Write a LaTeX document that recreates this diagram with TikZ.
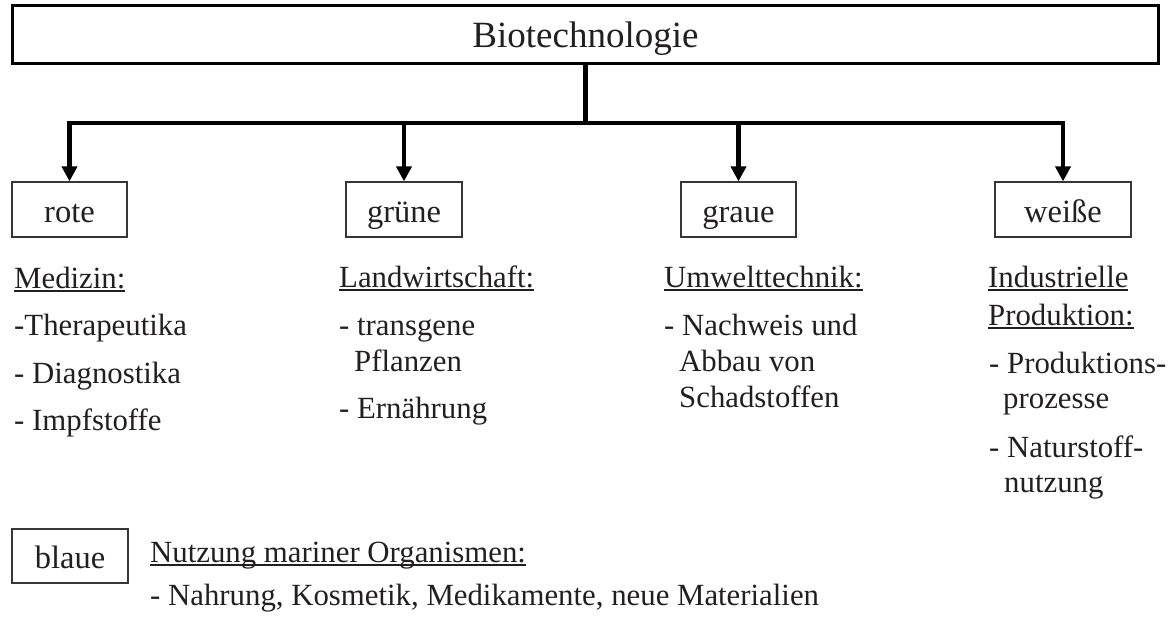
\documentclass[tikz,border=0pt]{standalone}
\usepackage{fontspec}
\setmainfont{Liberation Serif}
\usetikzlibrary{arrows.meta}
\definecolor{ink}{HTML}{231F20}
% underline drawn at a fixed depth below the baseline
\newcommand\ulx[1]{\setbox0=\hbox{#1}\rlap{\rule[-4pt]{\wd0}{1.8pt}}\box0}
\newcommand\bodyfont{\fontsize{30.8}{35.5}\selectfont}
\newcommand\labelfont{\fontsize{32.5}{36}\selectfont}
\newcommand\titlefont{\fontsize{37}{40}\selectfont}

\begin{document}
\begin{tikzpicture}[x=1pt,y=-1pt,
  heavy/.style={line width=4.5pt, draw=black},
  arr/.style={heavy, -{Triangle[length=15pt,width=15pt]}},
  catbox/.style={draw=ink!90, line width=1.2pt, minimum height=55pt, inner sep=0pt,
                 text height=30pt, text depth=5pt, font=\labelfont, text=ink},
  txt/.style={anchor=base west, inner sep=0pt, font=\bodyfont, text=ink}]
\useasboundingbox (0,0) rectangle (1169,616);

% top box
\node[draw=black, line width=3pt, minimum width=1146pt, minimum height=58pt, inner sep=0pt,
      text height=30pt, text depth=5pt, font=\titlefont, text=ink]
      (title) at (585.5,34.5) {Biotechnologie};

% category boxes
\node[catbox, minimum width=115pt] (rote)   at (69.5,209.5)  {rote};
\node[catbox, minimum width=116pt] (grune)  at (404,209.5)   {grüne};
\node[catbox, minimum width=115pt] (graue)  at (738.5,209.5) {graue};
\node[catbox, minimum width=136pt] (weisse) at (1063,209.5)  {weiße};
\node[catbox, minimum width=116pt, minimum height=54pt] (blaue) at (70,556) {blaue};

% connectors
\coordinate (hub) at (585.5,123);
\draw[heavy] (title.south) -- (hub);
\draw[arr] (hub) -| (rote.north);
\draw[arr] (hub) -| (weisse.north);
\draw[arr] (grune.north |- hub) -- (grune.north);
\draw[arr] (graue.north |- hub) -- (graue.north);

% rote
\node[txt] (r0) at (14,288) {\ulx{Medizin:}};
\node[txt] (r1) at (14,335) {-Therapeutika};
\node[txt] (r2) at (14,383) {- Diagnostika};
\node[txt] (r3) at (14,430) {- Impfstoffe};

% grüne
\node[txt] (g0) at (339,287) {\ulx{Landwirtschaft:}};
\node[txt] (g1) at (339,335) {- transgene};
\node[txt] (g2) at (354,371) {Pflanzen};
\node[txt] (g3) at (339,418) {- Ernährung};

% graue
\node[txt] (u0) at (664,287) {\ulx{Umwelttechnik:}};
\node[txt] (u1) at (664,335) {- Nachweis und};
\node[txt] (u2) at (679,371) {Abbau von};
\node[txt] (u3) at (679,407) {Schadstoffen};

% weiße
\node[txt] (w0) at (988,287) {\ulx{Industrielle}};
\node[txt] (w1) at (988,325) {\ulx{Produktion:}};
\node[txt] (w2) at (989,373) {- Produktions-};
\node[txt] (w3) at (1003,408) {prozesse};
\node[txt] (w4) at (989,457) {- Naturstoff-};
\node[txt] (w5) at (1004,492) {nutzung};

% blaue
\node[txt] (b0) at (150,562) {\ulx{Nutzung mariner Organismen:}};
\node[txt] (b1) at (150,605) {- Nahrung, Kosmetik, Medikamente, neue Materialien};
\end{tikzpicture}
\end{document}
